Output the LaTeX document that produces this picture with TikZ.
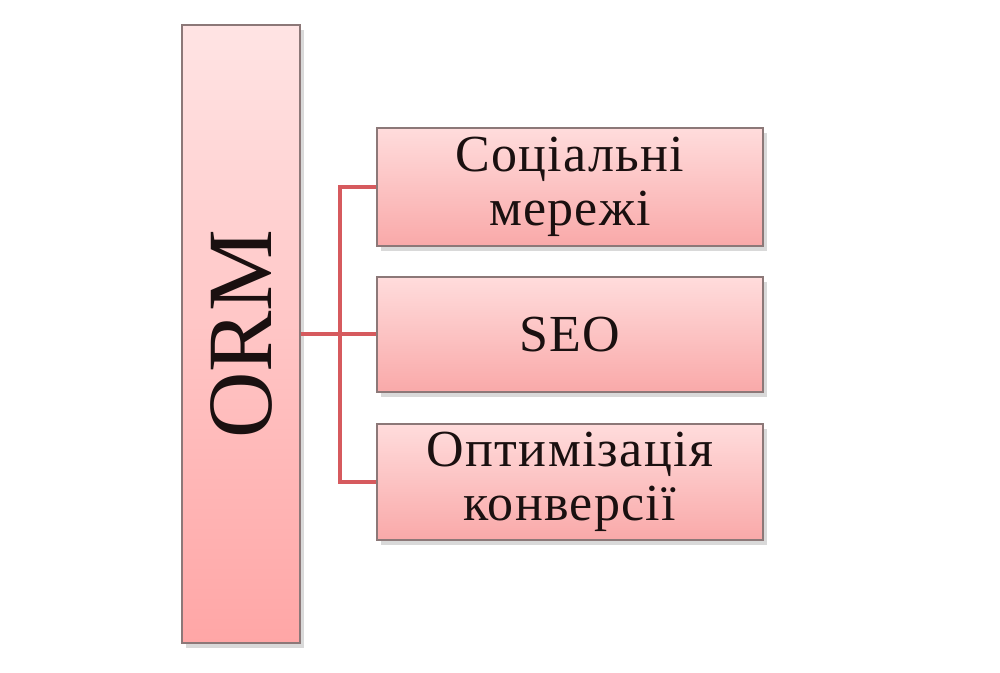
\documentclass[tikz,border=0pt]{standalone}
\usepackage{fontspec}
\setmainfont{Liberation Serif}
\newfontfamily\boxfont[LetterSpace=2.5]{Liberation Serif}
\usetikzlibrary{shadows}
\definecolor{topc}{HTML}{FFE4E4}
\definecolor{botc}{HTML}{FFA6A6}
\definecolor{rtopc}{HTML}{FFDCDC}
\definecolor{rbotc}{HTML}{F9A9A9}
\definecolor{edgec}{HTML}{8C7878}
\definecolor{linkc}{HTML}{D65A5E}
\definecolor{txtc}{HTML}{1A1010}
\tikzset{
  pinkbox/.style={draw=edgec, line width=0.6pt, rectangle, inner sep=0pt,
    top color=rtopc, bottom color=rbotc, text=txtc, align=center,
    drop shadow={opacity=0.3, shadow xshift=2pt, shadow yshift=-2.5pt}},
  rtext/.style={font=\boxfont\fontsize{26}{27}\selectfont},
  link/.style={draw=linkc, line width=2pt}
}
\begin{document}
\begin{tikzpicture}[x=0.5pt,y=-0.5pt]
\useasboundingbox (0,0) rectangle (1000,673);
\node[pinkbox, top color=topc, bottom color=botc, minimum width=59pt, minimum height=309pt] (orm) at (241,334)
  {\fontsize{46}{50}\selectfont\rotatebox{90}{ORM}};
\node[pinkbox, rtext, minimum width=193pt, minimum height=59pt] (b1) at (570,187)
  {Соціальні\\мережі};
\node[pinkbox, rtext, minimum width=193pt, minimum height=57.5pt] (b2) at (570,334.5)
  {SEO};
\node[pinkbox, rtext, minimum width=193pt, minimum height=58pt] (b3) at (570,482)
  {Оптимізація\\конверсії};
\coordinate (tr) at (340,334.5);
\draw[link] (orm.east |- tr) -- (b2.west);
\draw[link] (b1.west) -- (b1.west -| tr) -- (b3.west -| tr) -- (b3.west);
\end{tikzpicture}
\end{document}
